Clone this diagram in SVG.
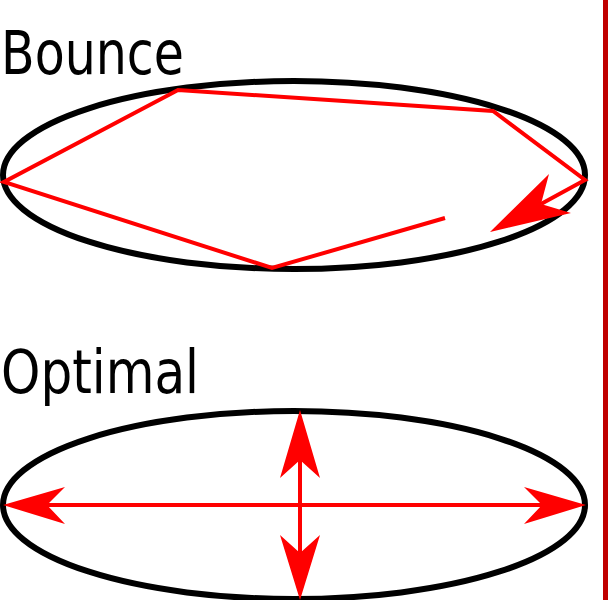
<svg xmlns="http://www.w3.org/2000/svg" width="609" height="600" viewBox="0 0 609 600">
<style>
.lbl{font-family:"DejaVu Sans","Liberation Sans",sans-serif;font-size:60px;fill:#000}
.ell{fill:none;stroke:#000;stroke-width:6}
.red{fill:none;stroke:#ff0000;stroke-width:4;stroke-linejoin:miter}
.head{fill:#ff0000;stroke:none}
</style>
<rect width="609" height="600" fill="#fff"/>
<rect x="603" y="0" width="5" height="600" fill="#c00000"/>
<g id="bounce">
<text class="lbl" x="1" y="74" textLength="183" lengthAdjust="spacingAndGlyphs">Bounce</text>
<ellipse class="ell" cx="294" cy="175" rx="291" ry="94"/>
</g>
<g id="optimal">
<text class="lbl" x="1" y="393" textLength="198" lengthAdjust="spacingAndGlyphs">Optimal</text>
<ellipse class="ell" cx="294" cy="505" rx="291" ry="94"/>
</g>
<g id="connectors">
<polyline class="red" points="445,218 272,268 4,182 178,90 493,111 585,180 541,204"/>
<polygon class="head" points="490,232 549,174 541,204 571,213"/>
<line class="red" x1="40" y1="505" x2="550" y2="505"/>
<polygon class="head" points="3,505 65,487 47,505 65,524"/>
<polygon class="head" points="586,505 524,487 542,505 524,524"/>
<line class="red" x1="300" y1="450" x2="300" y2="560"/>
<polygon class="head" points="300,410 320,478 300,460 280,478"/>
<polygon class="head" points="300,600 320,535 300,553 280,535"/>
</g>
</svg>
